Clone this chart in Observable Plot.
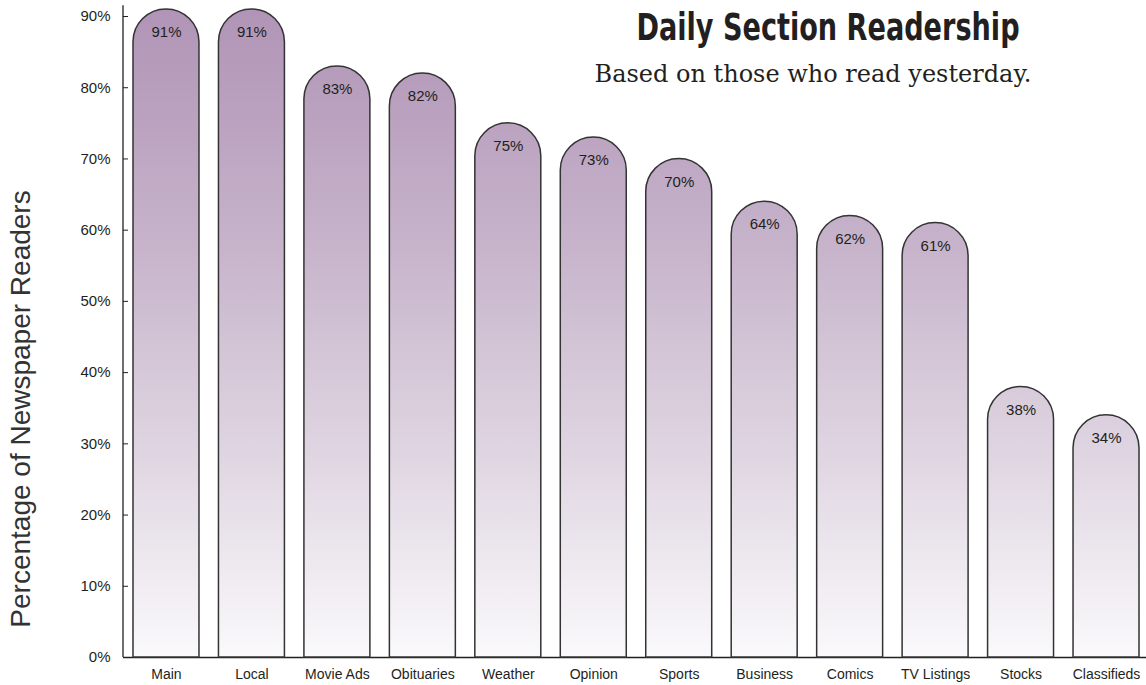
<!DOCTYPE html>
<html><head><meta charset="utf-8">
<script src="https://cdn.jsdelivr.net/npm/d3@7"></script>
<script src="https://cdn.jsdelivr.net/npm/@observablehq/plot@0.6"></script>
<style>
html,body{margin:0;padding:0;background:#fff;}
#wrap{position:relative;width:1146px;height:685px;overflow:hidden;}
#title{position:absolute;left:528px;width:600px;top:9px;text-align:center;line-height:1;white-space:nowrap;
  font-family:"DejaVu Sans",sans-serif;font-weight:bold;font-size:37px;color:#231f20;
  transform:scaleX(0.733);transform-origin:50% 50%;}
#subtitle{position:absolute;left:513px;width:600px;top:62px;text-align:center;line-height:1;white-space:nowrap;
  font-family:"DejaVu Serif",serif;font-size:24px;color:#231f20;}
</style></head>
<body><div id="wrap"><div id="chart"></div>
<div id="title">Daily Section Readership</div>
<div id="subtitle">Based on those who read yesterday.</div></div>
<script>
const sections = ["Main","Local","Movie Ads","Obituaries","Weather","Opinion","Sports","Business","Comics","TV Listings","Stocks","Classifieds"];
const readers = [91,91,83,82,75,73,70,64,62,61,38,34];
const yTicks = [0,10,20,30,40,50,60,70,80,90];
const yLabel = "Percentage of Newspaper Readers";
const axisTop = 91.5;

const data = sections.map((s,i)=>({section:s, value:readers[i], label:readers[i]+"%"}));

function domes(index, scales, values, dimensions) {
  const x = scales.x, y = scales.y;
  const bw = x.bandwidth();
  const g = d3.create("svg:g");
  const defs = g.append("defs");
  const grad = defs.append("linearGradient").attr("id","barGrad")
    .attr("gradientUnits","userSpaceOnUse").attr("x1",0).attr("x2",0)
    .attr("y1", 0).attr("y2", y(0));
  [[0,"#b093b6"],[0.35,"#c5b1c9"],[0.7,"#e0d6e2"],[1,"#faf9fb"]].forEach(([o,c])=>
    grad.append("stop").attr("offset",o).attr("stop-color",c));
  g.append("line").attr("x1",dimensions.marginLeft).attr("x2",dimensions.marginLeft)
    .attr("y1",y(axisTop)).attr("y2",y(0)).attr("stroke","#231f20").attr("stroke-width",1.3);
  data.forEach(d=>{
    const x0 = x(d.section), r = bw/2, yt = y(d.value), yb = y(0);
    g.append("path")
      .attr("d",`M${x0},${yb}V${yt+r}A${r},${r} 0 0 1 ${x0+bw},${yt+r}V${yb}Z`)
      .attr("fill","url(#barGrad)").attr("stroke","#333").attr("stroke-width",1.5);
  });
  return g.node();
}

const chart = Plot.plot({
  width:1146, height:685,
  marginLeft:123, marginRight:0, marginTop:16, marginBottom:28,
  style:{fontFamily:"'Liberation Sans', Arial, Helvetica, sans-serif", color:"#231f20", background:"white"},
  x:{type:"band", domain:sections, range:[123,1149], paddingInner:0.228, paddingOuter:0.117, round:false, label:null},
  y:{domain:[0,90], label:null},
  marks:[
    Plot.ruleY([0], {stroke:"#231f20", strokeWidth:1.3}),
    domes,
    Plot.axisY({ticks:yTicks, tickSize:5, dx:5, text:null, stroke:"#231f20", label:null}),
    Plot.axisY({ticks:yTicks, tickSize:0, tickPadding:13, tickFormat:d=>d+"%", fontSize:15, fill:"#231f20", label:null}),
    Plot.axisX({tickSize:0, tickPadding:12, fontSize:14, fill:"#231f20", label:null}),
    Plot.text(data, {x:"section", y:"value", text:"label", dy:23, fontSize:15, fill:"#231f20"}),
    Plot.text([yLabel], {frameAnchor:"left", textAnchor:"middle", rotate:-90, dx:-102, dy:72, fontSize:28, fill:"#333"})
  ]
});
document.getElementById("chart").appendChild(chart);
</script></body></html>
